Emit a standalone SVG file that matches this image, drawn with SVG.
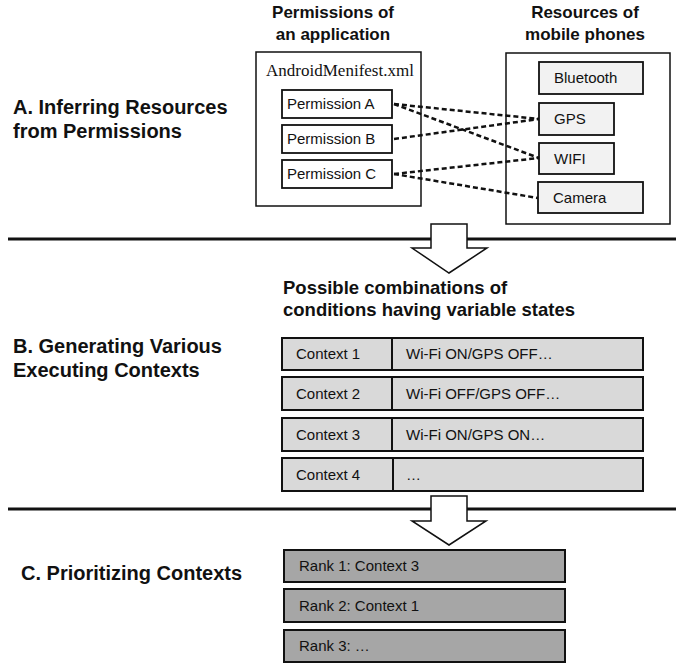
<svg xmlns="http://www.w3.org/2000/svg" width="684" height="665" viewBox="0 0 684 665">
<style>
text{font-family:"Liberation Sans",Arial,sans-serif;fill:#111}
.h{font-weight:bold;font-size:17px}
.sec{font-weight:bold;font-size:20px}
.t{font-size:15px}
.outer{fill:#fff;stroke:#111;stroke-width:1.5}
.perm{fill:#fff;stroke:#111;stroke-width:1.8}
.res{fill:#f2f2f2;stroke:#111;stroke-width:1.8}
.ctx{fill:#d9d9d9;stroke:#111;stroke-width:2}
.rank{fill:#a6a6a6;stroke:#111;stroke-width:2}
.dash{stroke:#111;stroke-width:2.5;stroke-dasharray:5 3;fill:none}
.sep{stroke:#111;stroke-width:3}
.arrow{fill:#fff;stroke:#111;stroke-width:1.5;stroke-linejoin:miter}
</style>

<g id="labels">
<text class="sec" x="13" y="114">A. Inferring Resources</text>
<text class="sec" x="13" y="138">from Permissions</text>
<text class="sec" x="13" y="353">B. Generating Various</text>
<text class="sec" x="13" y="377">Executing Contexts</text>
<text class="sec" x="21" y="580">C. Prioritizing Contexts</text>
<text class="h" x="333" y="18" text-anchor="middle">Permissions of</text>
<text class="h" x="333" y="40" text-anchor="middle">an application</text>
<text class="h" x="585" y="18" text-anchor="middle">Resources of</text>
<text class="h" x="585" y="40" text-anchor="middle">mobile phones</text>
<text style="font-weight:bold;font-size:18.5px" x="283" y="294">Possible combinations of</text>
<text style="font-weight:bold;font-size:18.5px" x="283" y="316">conditions having variable states</text>
</g>

<g id="separators">
<line class="sep" x1="8" y1="239" x2="676" y2="239"/>
<line class="sep" x1="8" y1="509" x2="676" y2="509"/>
<polygon class="arrow" points="431,224 467,224 467,248 487,248 449,273 412,248 431,248"/>
<polygon class="arrow" points="431,496 467,496 467,521 486,521 449,545 412,521 431,521"/>
</g>

<g id="manifest">
<rect class="outer" x="256" y="52" width="165" height="154"/>
<text x="340" y="76" text-anchor="middle" style="font-family:'Liberation Serif','Times New Roman',serif;font-size:17px">AndroidMenifest.xml</text>
</g>
<g id="permA"><rect class="perm" x="282" y="90" width="110" height="28"/><text class="t" x="287" y="109">Permission A</text></g>
<g id="permB"><rect class="perm" x="282" y="125" width="110" height="28"/><text class="t" x="287" y="144">Permission B</text></g>
<g id="permC"><rect class="perm" x="282" y="160" width="110" height="28"/><text class="t" x="287" y="179">Permission C</text></g>

<g id="resources"><rect class="outer" x="506" y="53" width="164" height="171"/></g>
<g id="bluetooth"><rect class="res" x="539" y="62" width="104" height="32"/><text class="t" x="554" y="83">Bluetooth</text></g>
<g id="gps"><rect class="res" x="539" y="103" width="75" height="32"/><text class="t" x="554" y="124">GPS</text></g>
<g id="wifi"><rect class="res" x="539" y="143" width="75" height="31"/><text class="t" x="554" y="164">WIFI</text></g>
<g id="camera"><rect class="res" x="538" y="182" width="105" height="31"/><text class="t" x="553" y="203">Camera</text></g>

<g id="connectors">
<line class="dash" x1="394" y1="104" x2="539" y2="119"/>
<line class="dash" x1="394" y1="104" x2="539" y2="158"/>
<line class="dash" x1="394" y1="139" x2="539" y2="119"/>
<line class="dash" x1="394" y1="174" x2="539" y2="158"/>
<line class="dash" x1="394" y1="174" x2="538" y2="198"/>
</g>

<g id="ctx1"><rect class="ctx" x="282" y="338" width="361" height="32"/><line stroke="#111" stroke-width="2" x1="392" y1="338" x2="392" y2="370"/><text class="t" x="296" y="359">Context 1</text><text class="t" x="406" y="359">Wi-Fi ON/GPS OFF…</text></g>
<g id="ctx2"><rect class="ctx" x="282" y="377" width="361" height="33"/><line stroke="#111" stroke-width="2" x1="392" y1="377" x2="392" y2="410"/><text class="t" x="296" y="399">Context 2</text><text class="t" x="406" y="399">Wi-Fi OFF/GPS OFF…</text></g>
<g id="ctx3"><rect class="ctx" x="282" y="418" width="361" height="33"/><line stroke="#111" stroke-width="2" x1="392" y1="418" x2="392" y2="451"/><text class="t" x="296" y="440">Context 3</text><text class="t" x="406" y="440">Wi-Fi ON/GPS ON…</text></g>
<g id="ctx4"><rect class="ctx" x="282" y="458" width="361" height="33"/><line stroke="#111" stroke-width="2" x1="393" y1="458" x2="393" y2="491"/><text class="t" x="296" y="480">Context 4</text><text class="t" x="406" y="480">…</text></g>

<g id="rank1"><rect class="rank" x="284" y="550" width="281" height="32"/><text class="t" x="299" y="571">Rank 1: Context 3</text></g>
<g id="rank2"><rect class="rank" x="284" y="589" width="281" height="33"/><text class="t" x="299" y="611">Rank 2: Context 1</text></g>
<g id="rank3"><rect class="rank" x="284" y="630" width="281" height="32"/><text class="t" x="299" y="651">Rank 3: …</text></g>
</svg>
